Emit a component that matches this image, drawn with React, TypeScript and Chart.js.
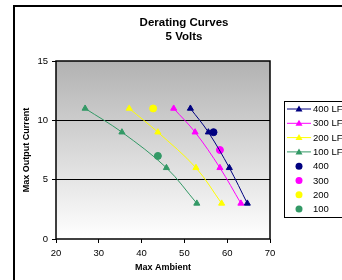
import React, { useEffect, useRef } from "react";
import { Chart, registerables } from "chart.js";

Chart.register(...registerables);

const lfLabels = ["400 LF", "300 LF", "200 LF", "100 LF"];
const lfColors = ["#000080", "#FF00FF", "#FFFF00", "#339966"];
const lfCurrent = [11, 9, 6, 3];
const lf400 = [51.4, 55.6, 60.5, 64.7];
const lf300 = [47.5, 52.5, 58.3, 63.2];
const lf200 = [37.1, 43.8, 52.7, 58.7];
const lf100 = [26.8, 35.4, 45.8, 52.9];

const ptLabels = ["400", "300", "200", "100"];
const ptColors = ["#000080", "#FF00FF", "#FFFF00", "#339966"];
const ptAmbient = [56.8, 58.3, 42.7, 43.8];
const ptCurrent = [9, 7.5, 11, 7];

const titleLines = ["Derating Curves", "5 Volts"];
const xTitle = "Max Ambient";
const yTitle = "Max Output Current";

const FONT = "'Liberation Sans', Arial, sans-serif";

const decorPlugin = {
  id: "decor",
  beforeDraw(chart: any) {
    const { ctx, chartArea: a } = chart;
    ctx.save();
    ctx.fillStyle = "#ffffff";
    ctx.fillRect(0, 0, chart.width, chart.height);
    ctx.strokeStyle = "#000";
    ctx.lineWidth = 2;
    ctx.strokeRect(14, 6, 400, 400);
    const g = ctx.createLinearGradient(0, a.top, 0, a.bottom);
    g.addColorStop(0, "#b2b2b2");
    g.addColorStop(1, "#ffffff");
    ctx.fillStyle = g;
    ctx.fillRect(a.left, a.top, a.right - a.left, a.bottom - a.top);
    ctx.restore();
  },
  afterDraw(chart: any) {
    const { ctx, chartArea: a } = chart;
    ctx.save();
    ctx.strokeStyle = "#000";
    ctx.lineWidth = 1.5;
    ctx.strokeRect(a.left, a.top, a.right - a.left, a.bottom - a.top);
    // title
    ctx.fillStyle = "#000";
    ctx.textAlign = "center";
    ctx.textBaseline = "middle";
    ctx.font = `bold 11.5px ${FONT}`;
    ctx.fillText(titleLines[0], 184, 22.5);
    ctx.fillText(titleLines[1], 184, 36.5);
    // axis titles
    ctx.font = `bold 9px ${FONT}`;
    ctx.fillText(xTitle, (a.left + a.right) / 2, 267.5);
    ctx.save();
    ctx.translate(26.5, (a.top + a.bottom) / 2);
    ctx.rotate(-Math.PI / 2);
    ctx.fillText(yTitle, 0, 0);
    ctx.restore();
    // legend
    const lx = 284, ly = 101, lw = 80, lh = 116;
    ctx.fillStyle = "#fff";
    ctx.fillRect(lx, ly, lw, lh);
    ctx.strokeStyle = "#000";
    ctx.lineWidth = 1;
    ctx.strokeRect(lx + 0.5, ly + 0.5, lw, lh);
    ctx.font = `9.5px ${FONT}`;
    ctx.textAlign = "left";
    const items = chart.data.datasets;
    items.forEach((ds: any, i: number) => {
      const y = 109 + i * 14.3;
      if (ds.showLine) {
        ctx.strokeStyle = ds.borderColor;
        ctx.lineWidth = 1;
        ctx.beginPath();
        ctx.moveTo(287, y);
        ctx.lineTo(311, y);
        ctx.stroke();
        ctx.fillStyle = ds.pointBackgroundColor;
        ctx.beginPath();
        ctx.moveTo(299, y - 3.5);
        ctx.lineTo(302.5, y + 2.5);
        ctx.lineTo(295.5, y + 2.5);
        ctx.closePath();
        ctx.fill();
      } else {
        ctx.fillStyle = ds.pointBackgroundColor;
        ctx.beginPath();
        ctx.arc(299, y, 3.5, 0, Math.PI * 2);
        ctx.fill();
      }
      ctx.fillStyle = "#000";
      ctx.fillText(ds.label, 313, y + 0.5);
    });
    ctx.restore();
  },
};

export default function App() {
  const ref = useRef<HTMLCanvasElement>(null);
  useEffect(() => {
    const lfX = [lf400, lf300, lf200, lf100];
    const datasets: any[] = lfLabels.map((label, i) => ({
      label,
      data: lfX[i].map((x, j) => ({ x, y: lfCurrent[j] })),
      showLine: true,
      borderColor: lfColors[i],
      backgroundColor: lfColors[i],
      pointBackgroundColor: lfColors[i],
      pointBorderColor: lfColors[i],
      borderWidth: 1,
      pointStyle: "triangle",
      pointRadius: 3.5,
      tension: 0.35,
    }));
    ptLabels.forEach((label, i) => {
      datasets.push({
        label,
        data: [{ x: ptAmbient[i], y: ptCurrent[i] }],
        showLine: false,
        backgroundColor: ptColors[i],
        pointBackgroundColor: ptColors[i],
        pointBorderColor: ptColors[i],
        pointStyle: "circle",
        pointRadius: 3.5,
      });
    });
    const chart = new Chart(ref.current!, {
      type: "scatter",
      data: { datasets },
      options: {
        animation: false,
        responsive: false,
        layout: { padding: { left: 0, top: 61, right: 72, bottom: 0 } },
        plugins: { legend: { display: false }, title: { display: false }, tooltip: { enabled: false } },
        scales: {
          x: {
            type: "linear",
            min: 20,
            max: 70,
            ticks: { stepSize: 10, color: "#000", font: { family: FONT, size: 9.5 }, padding: 5 },
            grid: { display: true, drawOnChartArea: false, drawTicks: true, tickLength: 4, color: "#000", tickColor: "#000" },
            border: { display: false },
            afterFit: (s: any) => { s.height = 41; },
          },
          y: {
            type: "linear",
            min: 0,
            max: 15,
            ticks: { stepSize: 5, color: "#000", font: { family: FONT, size: 9.5 }, padding: 4 },
            grid: {
              color: (c: any) => (c.tick && (c.tick.value === 5 || c.tick.value === 10) ? "#000" : "rgba(0,0,0,0)"),
              tickColor: "#000",
              tickLength: 4,
              lineWidth: 1,
            },
            border: { display: false },
            afterFit: (s: any) => { s.width = 56; },
          },
        },
      },
      plugins: [decorPlugin],
    });
    return () => chart.destroy();
  }, []);
  return (
    <div style={{ position: "fixed", left: 0, top: 0, width: 342, height: 280 }}>
      <canvas ref={ref} width={342} height={280} style={{ width: 342, height: 280, display: "block" }} />
    </div>
  );
}
